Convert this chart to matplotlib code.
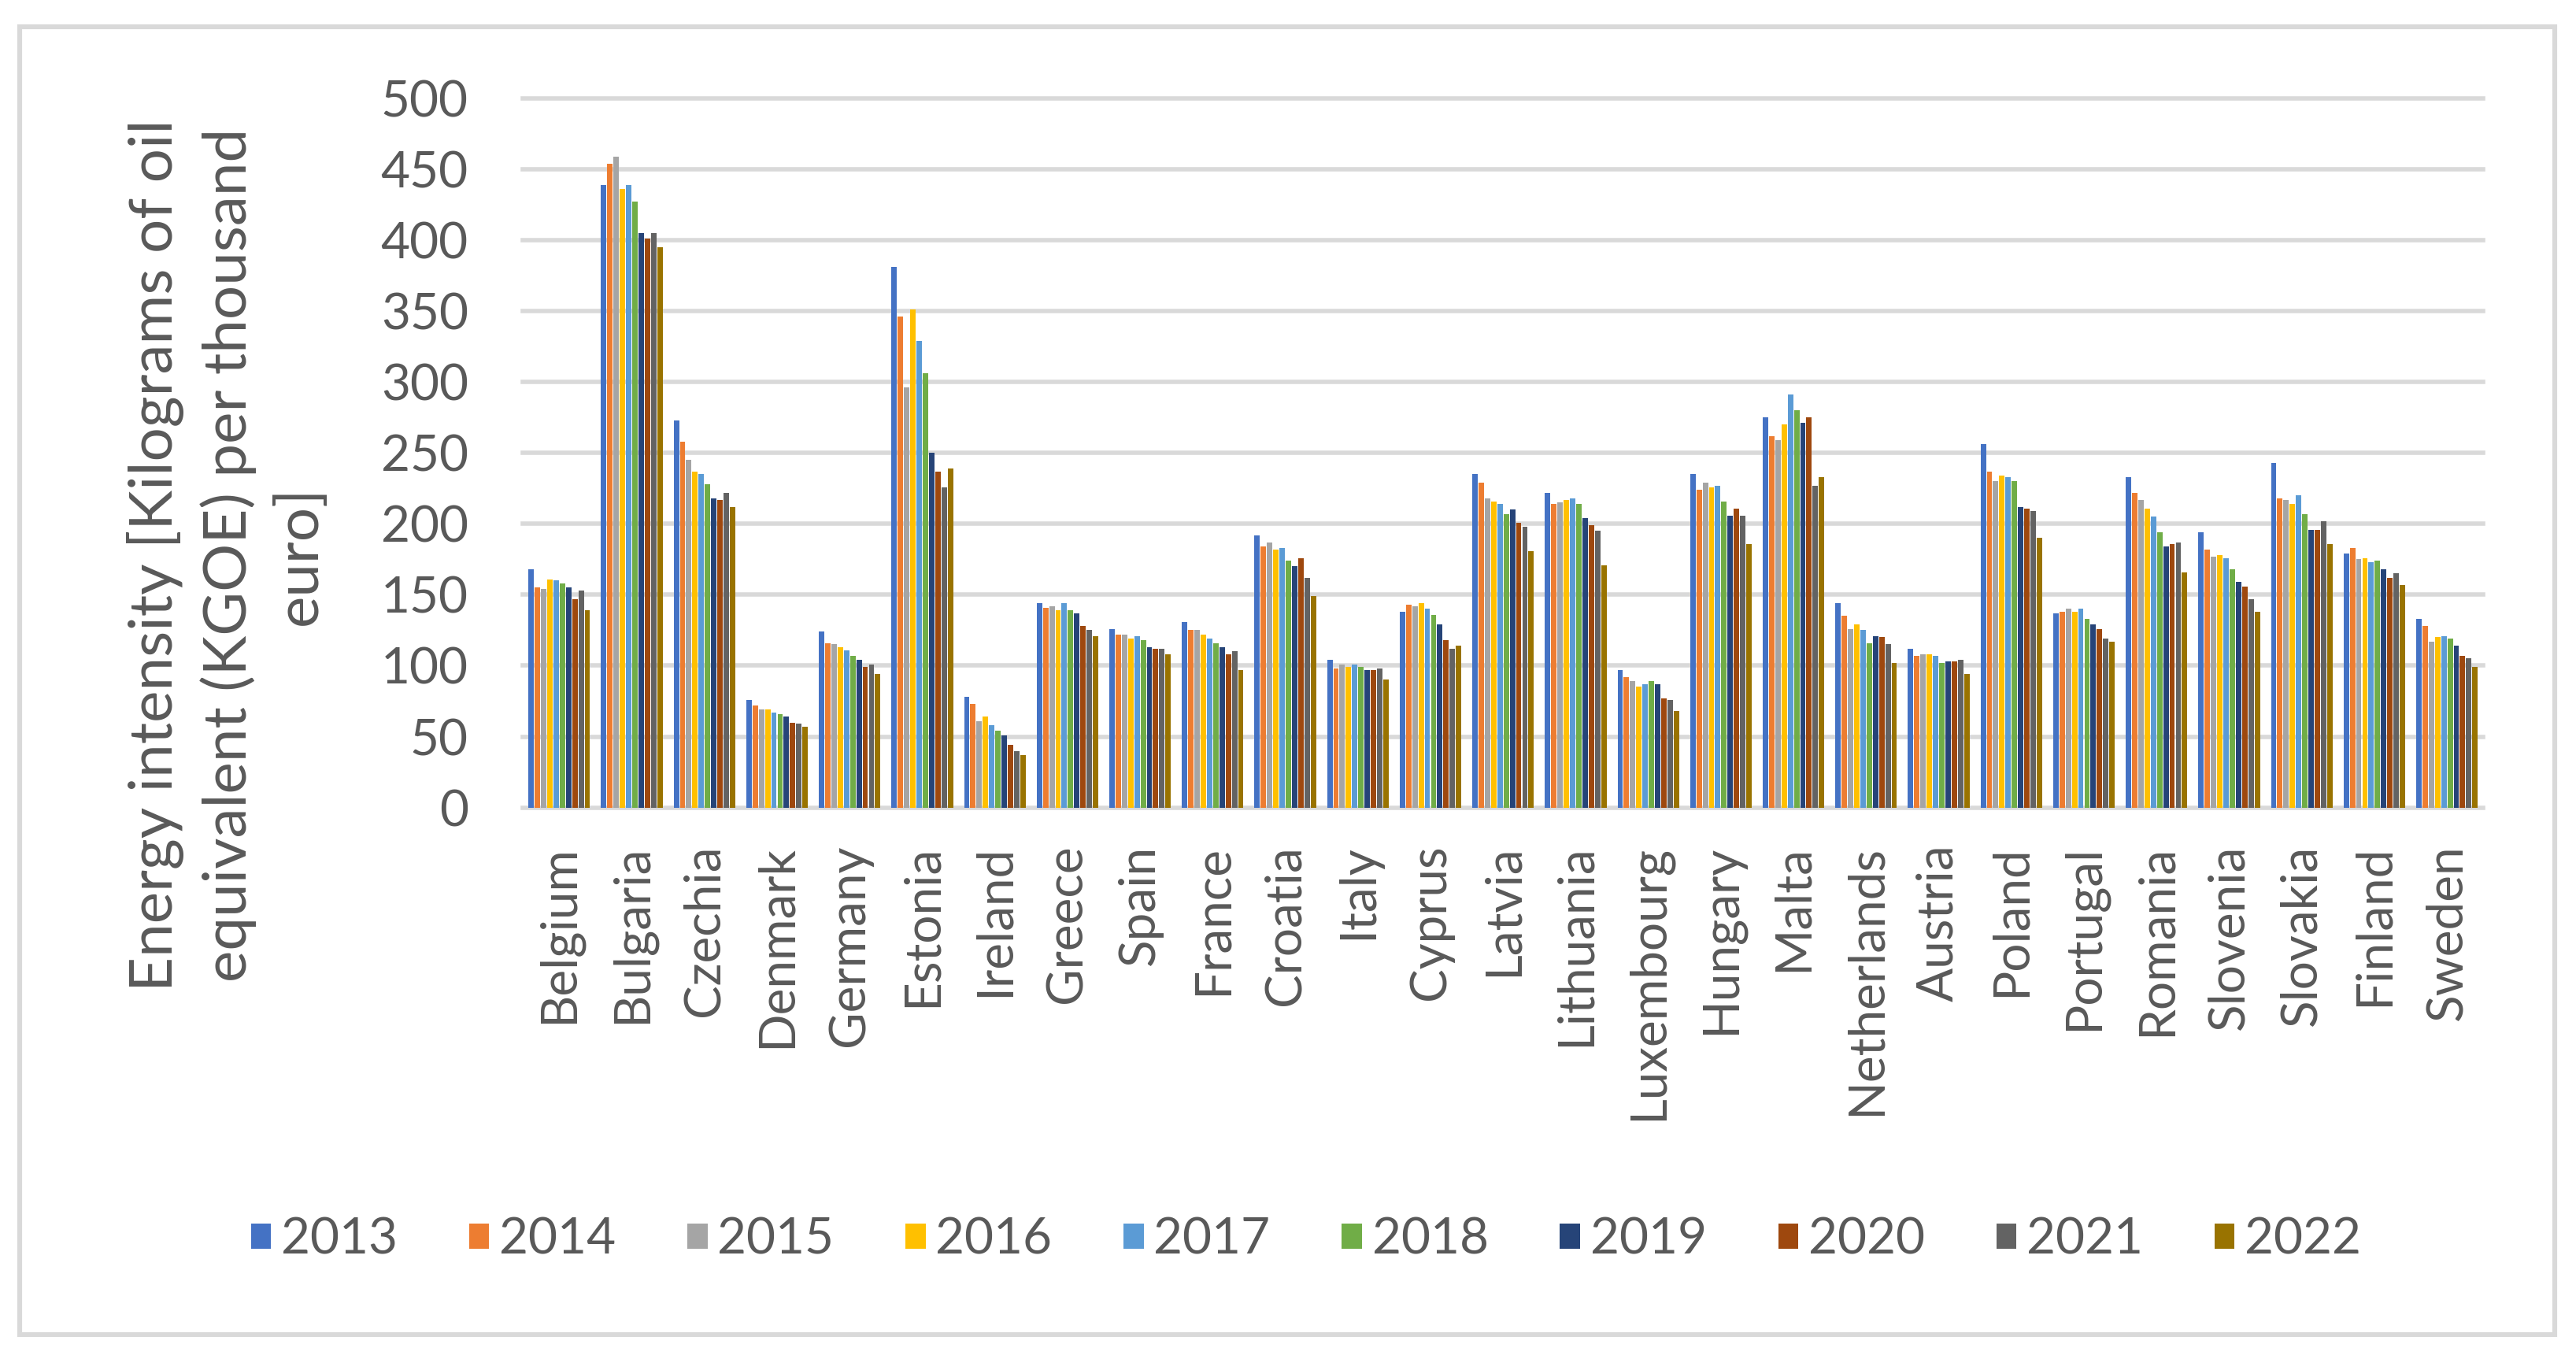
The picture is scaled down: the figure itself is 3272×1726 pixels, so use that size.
import matplotlib.pyplot as plt
import numpy as np
from matplotlib.patches import Rectangle

countries = ["Belgium", "Bulgaria", "Czechia", "Denmark", "Germany", "Estonia", "Ireland",
             "Greece", "Spain", "France", "Croatia", "Italy", "Cyprus", "Latvia", "Lithuania",
             "Luxembourg", "Hungary", "Malta", "Netherlands", "Austria", "Poland", "Portugal",
             "Romania", "Slovenia", "Slovakia", "Finland", "Sweden"]

years = ["2013", "2014", "2015", "2016", "2017", "2018", "2019", "2020", "2021", "2022"]

y2013 = [168, 439, 273, 76, 124, 381, 78, 144, 126, 131, 192, 104, 138, 235, 222, 97, 235, 275, 144, 112, 256, 137, 233, 194, 243, 179, 133]
y2014 = [155, 454, 258, 72, 116, 346, 73, 141, 122, 125, 184, 98, 143, 229, 214, 92, 224, 262, 135, 107, 237, 138, 222, 182, 218, 183, 128]
y2015 = [154, 459, 245, 69, 115, 296, 61, 142, 122, 125, 187, 101, 142, 218, 215, 89, 229, 259, 126, 108, 230, 140, 217, 177, 217, 175, 117]
y2016 = [161, 436, 237, 69, 113, 351, 64, 139, 119, 122, 182, 99, 144, 216, 217, 85, 226, 270, 129, 108, 234, 138, 211, 178, 214, 176, 120]
y2017 = [160, 439, 235, 67, 111, 329, 58, 144, 121, 119, 183, 101, 140, 214, 218, 87, 227, 291, 125, 107, 233, 140, 205, 176, 220, 173, 121]
y2018 = [158, 427, 228, 66, 107, 306, 54, 139, 118, 116, 174, 99, 136, 207, 214, 89, 216, 280, 116, 102, 230, 133, 194, 168, 207, 174, 119]
y2019 = [155, 405, 218, 64, 104, 250, 51, 137, 113, 113, 170, 97, 129, 210, 204, 87, 206, 271, 121, 103, 212, 129, 184, 159, 196, 168, 114]
y2020 = [147, 401, 217, 60, 99, 237, 44, 128, 112, 108, 176, 97, 118, 201, 199, 77, 211, 275, 120, 103, 211, 126, 186, 156, 196, 162, 107]
y2021 = [153, 405, 222, 59, 101, 226, 40, 125, 112, 110, 162, 98, 112, 198, 195, 76, 206, 227, 115, 104, 209, 119, 187, 147, 202, 165, 105]
y2022 = [139, 395, 212, 57, 94, 239, 37, 121, 108, 97, 149, 90, 114, 181, 171, 68, 186, 233, 102, 94, 190, 117, 166, 138, 186, 157, 99]

series = [y2013, y2014, y2015, y2016, y2017, y2018, y2019, y2020, y2021, y2022]
yticks = [0, 50, 100, 150, 200, 250, 300, 350, 400, 450, 500]

colors = ["#4472C4", "#ED7D31", "#A5A5A5", "#FFC000", "#5B9BD5",
          "#70AD47", "#264478", "#9E480E", "#636363", "#997300"]

TEXT = "#595959"
GRID = "#D9D9D9"

plt.rcParams["font.family"] = ["Lato", "DejaVu Sans"]

fig = plt.figure(figsize=(16.36, 8.63), dpi=200)
ax = fig.add_axes([0.203, 0.4058, 0.761, 0.5218])

x = np.arange(len(countries))
step = 0.086
for i, (yr, vals) in enumerate(zip(years, series)):
    offs = (i - 4.5) * step
    ax.bar(x + offs, vals, width=step * 0.87, color=colors[i], label=yr, zorder=3)

# gridlines drawn unclipped so the zero line keeps its full width
for t in yticks:
    ax.axhline(t, color=GRID, linewidth=2.0, zorder=1, clip_on=False)

ax.set_xlim(-0.5, len(countries) - 0.5)
ax.set_ylim(0, 500)
ax.set_yticks(yticks)
ax.set_xticks(x)
ax.set_xticklabels(countries, rotation=90)
ax.tick_params(axis="both", length=0, labelsize=23, colors=TEXT)
ax.tick_params(axis="y", pad=25)
ax.tick_params(axis="x", pad=17)
for s in ax.spines.values():
    s.set_visible(False)

fig.text(0.088, 0.5916,
         "Energy intensity [Kilograms of oil\nequivalent (KGOE) per thousand\neuro]",
         rotation=90, ha="center", va="center", multialignment="center",
         fontsize=27.5, color=TEXT, linespacing=1.35)

fig.legend(loc="center", bbox_to_anchor=(0.507, 0.0875), ncol=10, frameon=False,
           fontsize=23, labelcolor=TEXT, handlelength=0.4, handleheight=0.4,
           handletextpad=0.2, columnspacing=1.42)

fig.patches.append(Rectangle((24.5 / 3272, 1 - 1695 / 1726), (3245 - 24.5) / 3272,
                             (1695 - 33.7) / 1726, transform=fig.transFigure,
                             fill=False, edgecolor=GRID, linewidth=2.2))

fig.savefig("out.png", dpi=200)
